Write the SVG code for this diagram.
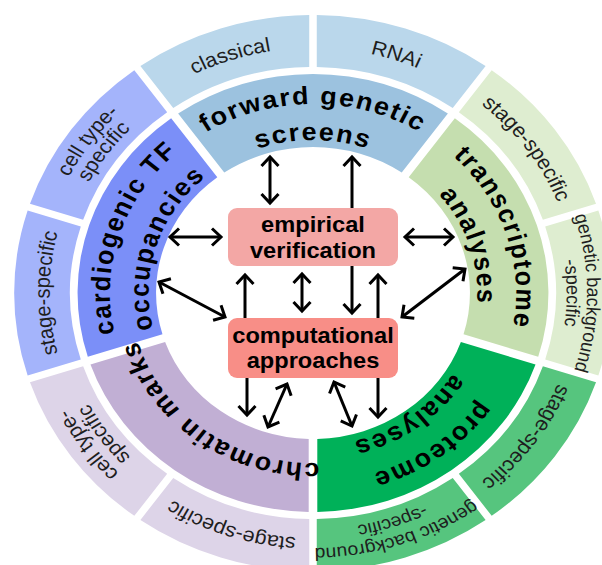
<svg xmlns="http://www.w3.org/2000/svg" xmlns:xlink="http://www.w3.org/1999/xlink" width="602" height="565" viewBox="0 0 602 565">
<style>
  .in{font-family:"Liberation Sans",Arial,Helvetica,sans-serif;font-weight:bold;font-size:25px;fill:#000;letter-spacing:1.6px;text-anchor:middle}
  .out{font-family:"Liberation Sans",Arial,Helvetica,sans-serif;font-size:20px;fill:#1e1e1e;text-anchor:middle}
  .out.sm{font-size:18px}
  .box{font-family:"Liberation Sans",Arial,Helvetica,sans-serif;font-weight:bold;font-size:22px;fill:#000;text-anchor:middle}
  .arr{stroke:#000;stroke-width:3;fill:none;marker-end:url(#ah)}
  .dbl{marker-start:url(#ah)}
</style>
<defs>
  <!-- inner ring segment, 72 degrees wide, centred on the top -->
  <path id="segIn" d="M-125.46,-179.50 A219,219 0 0 1 125.46,-179.50 L82.55,-120.42 A146,146 0 0 0 -82.55,-120.42 Z"/>
  <!-- outer ring segment, 36 degrees wide, centred on the top -->
  <path id="segOut" d="M-82.57,-265.45 A278,278 0 0 1 82.57,-265.45 L66.50,-216.00 A226,226 0 0 0 -66.50,-216.00 Z"/>
  <!-- clockwise baselines for ring labels, centred on the top -->
  <path id="r189" d="M-133.64,-133.64 A189,189 0 0 1 133.64,-133.64"/>
  <path id="r153" d="M-108.19,-108.19 A153,153 0 0 1 108.19,-108.19"/>
  <path id="r170" d="M-120.21,-120.21 A170,170 0 0 1 120.21,-120.21"/>
  <path id="r245" d="M-173.24,-173.24 A245,245 0 0 1 173.24,-173.24"/>
  <path id="r255" d="M-180.31,-180.31 A255,255 0 0 1 180.31,-180.31"/>
  <path id="r236" d="M-166.88,-166.88 A236,236 0 0 1 166.88,-166.88"/>
  <marker id="ah" viewBox="-12 -11 16 22" refX="0" refY="0" markerWidth="16" markerHeight="22" markerUnits="userSpaceOnUse" orient="auto-start-reverse">
    <path d="M-9,-8.5 L0,0 L-9,8.5" fill="none" stroke="#000" stroke-width="3"/>
  </marker>
</defs>

<g id="wheel" transform="translate(313,293) scale(1.075,1)">
  <g id="forward-genetic-screens">
    <use xlink:href="#segIn" fill="#9cc2df"/>
    <text class="in"><textPath xlink:href="#r189" startOffset="50%">forward genetic</textPath></text>
    <text class="in"><textPath xlink:href="#r153" startOffset="50%">screens</textPath></text>
  </g>
  <g id="classical">
    <use xlink:href="#segOut" transform="rotate(-18)" fill="#bad7eb"/>
    <text class="out" transform="rotate(-18)"><textPath xlink:href="#r245" startOffset="50%">classical</textPath></text>
  </g>
  <g id="rnai">
    <use xlink:href="#segOut" transform="rotate(18)" fill="#bad7eb"/>
    <text class="out" transform="rotate(18)"><textPath xlink:href="#r245" startOffset="50%">RNAi</textPath></text>
  </g>

  <g id="transcriptome-analyses">
    <use xlink:href="#segIn" transform="rotate(72)" fill="#c5deaf"/>
    <text class="in" transform="rotate(72)"><textPath xlink:href="#r189" startOffset="50%">transcriptome</textPath></text>
    <text class="in" transform="rotate(72)"><textPath xlink:href="#r153" startOffset="50%">analyses</textPath></text>
  </g>
  <g id="transcriptome-stage">
    <use xlink:href="#segOut" transform="rotate(54)" fill="#deedd0"/>
    <text class="out" transform="rotate(54)"><textPath xlink:href="#r245" startOffset="50%">stage-specific</textPath></text>
  </g>
  <g id="transcriptome-background">
    <use xlink:href="#segOut" transform="rotate(90)" fill="#deedd0"/>
    <text class="out sm" transform="rotate(90)"><textPath xlink:href="#r255" startOffset="50%">genetic background</textPath></text>
    <text class="out sm" transform="rotate(90)"><textPath xlink:href="#r236" startOffset="50%">-specific</textPath></text>
  </g>

  <g id="proteome-analyses">
    <use xlink:href="#segIn" transform="rotate(144)" fill="#00b159"/>
    <text class="in" transform="rotate(144)"><textPath xlink:href="#r189" startOffset="50%">proteome</textPath></text>
    <text class="in" transform="rotate(144)"><textPath xlink:href="#r153" startOffset="50%">analyses</textPath></text>
  </g>
  <g id="proteome-stage">
    <use xlink:href="#segOut" transform="rotate(126)" fill="#56c57e"/>
    <text class="out" transform="rotate(126)"><textPath xlink:href="#r245" startOffset="50%">stage-specific</textPath></text>
  </g>
  <g id="proteome-background">
    <use xlink:href="#segOut" transform="rotate(162)" fill="#56c57e"/>
    <text class="out sm" transform="rotate(162)"><textPath xlink:href="#r255" startOffset="50%">genetic background</textPath></text>
    <text class="out sm" transform="rotate(162)"><textPath xlink:href="#r236" startOffset="50%">-specific</textPath></text>
  </g>

  <g id="chromatin-marks">
    <use xlink:href="#segIn" transform="rotate(216)" fill="#c1afd4"/>
    <text class="in" transform="rotate(216)"><textPath xlink:href="#r170" startOffset="50%">chromatin marks</textPath></text>
  </g>
  <g id="chromatin-stage">
    <use xlink:href="#segOut" transform="rotate(198)" fill="#ddd4e8"/>
    <text class="out" transform="rotate(198)"><textPath xlink:href="#r245" startOffset="50%">stage-specific</textPath></text>
  </g>
  <g id="chromatin-celltype">
    <use xlink:href="#segOut" transform="rotate(234)" fill="#ddd4e8"/>
    <text class="out" transform="rotate(234)"><textPath xlink:href="#r255" startOffset="50%">cell type-</textPath></text>
    <text class="out" transform="rotate(234)"><textPath xlink:href="#r236" startOffset="50%">specific</textPath></text>
  </g>

  <g id="tf-occupancies">
    <use xlink:href="#segIn" transform="rotate(288)" fill="#7b8ff8"/>
    <text class="in" transform="rotate(288)"><textPath xlink:href="#r189" startOffset="50%">cardiogenic TF</textPath></text>
    <text class="in" transform="rotate(288)"><textPath xlink:href="#r153" startOffset="50%">occupancies</textPath></text>
  </g>
  <g id="tf-stage">
    <use xlink:href="#segOut" transform="rotate(270)" fill="#a4b4fb"/>
    <text class="out" transform="rotate(270)"><textPath xlink:href="#r245" startOffset="50%">stage-specific</textPath></text>
  </g>
  <g id="tf-celltype">
    <use xlink:href="#segOut" transform="rotate(306)" fill="#a4b4fb"/>
    <text class="out" transform="rotate(306)"><textPath xlink:href="#r255" startOffset="50%">cell type-</textPath></text>
    <text class="out" transform="rotate(306)"><textPath xlink:href="#r236" startOffset="50%">specific</textPath></text>
  </g>
</g>

<g id="connectors">
  <line class="arr dbl" x1="270" y1="157" x2="270" y2="203"/>
  <line class="arr dbl" x1="352" y1="157" x2="352" y2="313"/>
  <line class="arr dbl" x1="170" y1="237" x2="221" y2="237"/>
  <line class="arr dbl" x1="405" y1="237" x2="453" y2="237"/>
  <line class="arr dbl" x1="159" y1="282" x2="225" y2="317"/>
  <line class="arr dbl" x1="402" y1="317" x2="465" y2="269"/>
  <line class="arr dbl" x1="302" y1="274" x2="302" y2="311"/>
  <line class="arr" x1="245" y1="318" x2="245" y2="275"/>
  <line class="arr" x1="378" y1="318" x2="378" y2="275"/>
  <line class="arr" x1="247" y1="378" x2="247" y2="415"/>
  <line class="arr dbl" x1="287" y1="384" x2="268" y2="427"/>
  <line class="arr dbl" x1="334" y1="382" x2="352" y2="426"/>
  <line class="arr" x1="378" y1="378" x2="378" y2="417"/>
</g>

<g id="empirical-verification">
  <rect x="228" y="208" width="170" height="58" rx="9" fill="#f3a7a5"/>
  <g transform="translate(313,0) scale(1.075,1)">
    <text class="box" x="0" y="232">empirical</text>
    <text class="box" x="0" y="258">verification</text>
  </g>
</g>
<g id="computational-approaches">
  <rect x="228" y="318" width="170" height="60" rx="9" fill="#f88e87"/>
  <g transform="translate(313,0) scale(1.075,1)">
    <text class="box" x="0" y="343">computational</text>
    <text class="box" x="0" y="368">approaches</text>
  </g>
</g>
</svg>
